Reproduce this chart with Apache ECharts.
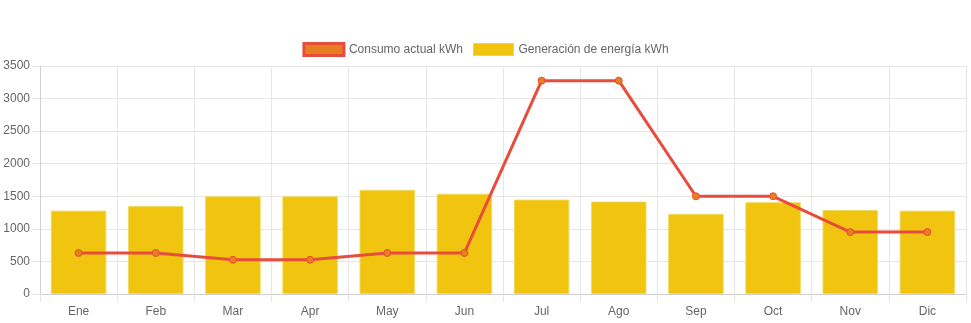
<!DOCTYPE html>
<html>
<head>
<meta charset="utf-8">
<script src="https://cdn.jsdelivr.net/npm/echarts@6/dist/echarts.min.js"></script>
<style>html,body{margin:0;padding:0;background:#fff}#c{width:971px;height:323px}</style>
</head>
<body>
<div id="c"></div>
<script>
const months = ['Ene','Feb','Mar','Apr','May','Jun','Jul','Ago','Sep','Oct','Nov','Dic'];
const consumo = [630, 630, 525, 525, 630, 630, 3275, 3275, 1500, 1500, 950, 950];
const generacion = [1280, 1350, 1500, 1500, 1600, 1540, 1450, 1420, 1230, 1410, 1290, 1280];
const yMin = 0, yMax = 3500, yStep = 500;

const chart = echarts.init(document.getElementById('c'), null, {renderer: 'canvas'});
const font = 'Arial, "Liberation Sans", Helvetica, sans-serif';
chart.setOption({
  animation: false,
  textStyle: {fontFamily: font},
  legend: {
    top: 37,
    left: 'center',
    itemWidth: 40,
    itemHeight: 12,
    itemGap: 10,
    textStyle: {color: '#666', fontSize: 12, fontFamily: font},
    data: [
      {name: 'Consumo actual kWh', icon: 'rect', itemStyle: {color: '#e67e22', borderColor: '#e74c3c', borderWidth: 3}},
      {name: 'Generación de energía kWh', icon: 'rect', itemStyle: {color: '#f1c40f', borderColor: 'rgba(241,196,15,0.5)', borderWidth: 1}}
    ]
  },
  grid: {left: 40, right: 5, top: 66, bottom: 29, containLabel: false, outerBoundsMode: 'none'},
  xAxis: {
    type: 'category',
    data: months,
    boundaryGap: true,
    axisLine: {lineStyle: {color: '#d0d0d0', width: 1}},
    axisTick: {show: true, length: 8, lineStyle: {color: '#e6e6e6'}},
    splitLine: {show: true, lineStyle: {color: '#e6e6e6'}},
    axisLabel: {color: '#666', fontSize: 12, fontFamily: font, margin: 12}
  },
  yAxis: {
    type: 'value',
    min: yMin, max: yMax, interval: yStep,
    axisLine: {show: true, lineStyle: {color: '#d0d0d0', width: 1}},
    axisTick: {show: true, length: 8, lineStyle: {color: '#e6e6e6'}},
    splitLine: {show: true, lineStyle: {color: '#e6e6e6'}},
    axisLabel: {color: '#666', fontSize: 12, fontFamily: font, margin: 10, formatter: v => String(v)}
  },
  series: [
    {
      name: 'Consumo actual kWh',
      type: 'line',
      data: consumo,
      z: 5,
      symbol: 'circle',
      symbolSize: 7,
      lineStyle: {color: '#e74c3c', width: 3},
      itemStyle: {color: '#e67e22', borderColor: '#e74c3c', borderWidth: 1}
    },
    {
      name: 'Generación de energía kWh',
      type: 'bar',
      data: generacion,
      barWidth: '72%',
      z: 2,
      itemStyle: {color: '#f1c40f', borderColor: 'rgba(241,220,100,0.9)', borderWidth: 1}
    }
  ]
});
</script>
</body>
</html>
